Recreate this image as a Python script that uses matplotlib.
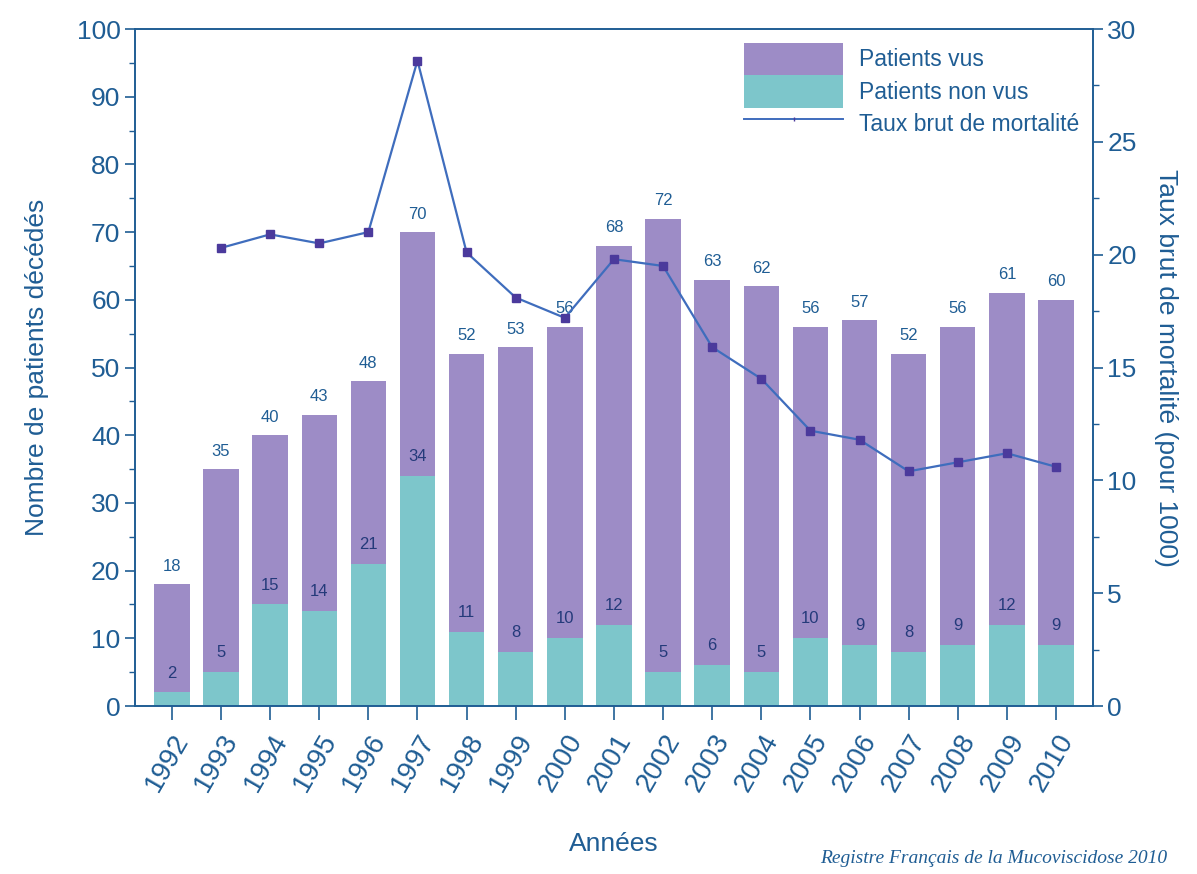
import matplotlib.pyplot as plt
from matplotlib.patches import Patch
from matplotlib.lines import Line2D
from matplotlib.ticker import MultipleLocator

plt.rcParams['font.family'] = ['Liberation Sans', 'DejaVu Sans']

years = [str(y) for y in range(1992, 2011)]
total = [18, 35, 40, 43, 48, 70, 52, 53, 56, 68, 72, 63, 62, 56, 57, 52, 56, 61, 60]
non_vus = [2, 5, 15, 14, 21, 34, 11, 8, 10, 12, 5, 6, 5, 10, 9, 8, 9, 12, 9]
# mortality rate per 1000, no value for 1992
rate_years = years[1:]
rate = [20.3, 20.9, 20.5, 21.0, 28.6, 20.1, 18.1, 17.2, 19.8, 19.5,
        15.9, 14.5, 12.2, 11.8, 10.4, 10.8, 11.2, 10.6]

vus = [t - n for t, n in zip(total, non_vus)]

PURPLE = '#9d8cc6'
TEAL = '#7dc6cb'
TXT = '#1f5d94'
LINE = '#3f6dbd'
MARK = '#4b3a9c'

fig = plt.figure(figsize=(11.97, 8.74), dpi=100)
ax = fig.add_axes([0.1128, 0.1922, 0.8002, 0.7746])
ax2 = ax.twinx()

x = list(range(len(years)))
ax.bar(x, non_vus, width=0.72, color=TEAL, zorder=2)
ax.bar(x, vus, width=0.72, bottom=non_vus, color=PURPLE, zorder=2)

for i in x:
    ax.annotate(str(total[i]), (i, total[i]), xytext=(0, 13), textcoords='offset points',
                ha='center', va='center', fontsize=12, color=TXT)
    ax.annotate(str(non_vus[i]), (i, non_vus[i]), xytext=(0, 14), textcoords='offset points',
                ha='center', va='center', fontsize=12, color='#243a7a')

ax2.plot(x[1:], rate, color=LINE, lw=1.6, marker='s', ms=6,
         mfc=MARK, mec=MARK, zorder=3)

ax.set_xlim(-0.75, 18.75)
ax.set_ylim(0, 100)
ax2.set_ylim(0, 30)

ax.yaxis.set_major_locator(MultipleLocator(10))
ax.yaxis.set_minor_locator(MultipleLocator(5))
ax2.yaxis.set_major_locator(MultipleLocator(5))
ax2.yaxis.set_minor_locator(MultipleLocator(2.5))

ax.set_xticks(x)
ax.set_xticklabels(years, rotation=60, ha='right', va='top', rotation_mode='anchor')

for a in (ax, ax2):
    for s in a.spines.values():
        s.set_color(TXT)
        s.set_linewidth(1.2)
    a.tick_params(which='major', direction='out', length=7, width=1.2, color=TXT,
                  labelcolor=TXT, labelsize=19)
    a.tick_params(which='minor', direction='out', length=4, width=1.0, color=TXT)
ax.tick_params(axis='x', length=10, pad=7, labelsize=20)

ax.set_ylabel('Nombre de patients décédés', fontsize=19, color=TXT, labelpad=20)
ax2.set_ylabel('Taux brut de mortalité (pour 1000)', fontsize=19, color=TXT,
               rotation=270, labelpad=30)
ax.set_xlabel('Années', fontsize=19, color=TXT, labelpad=26)

handles = [Patch(facecolor=PURPLE, edgecolor='none'),
           Patch(facecolor=TEAL, edgecolor='none'),
           Line2D([0], [0], color=LINE, lw=1.4, marker='|', ms=3, markevery=[1],
                  mec=MARK)]
leg = ax.legend(handles, ['Patients vus', 'Patients non vus', 'Taux brut de mortalité'],
                loc='upper right', bbox_to_anchor=(1.0, 1.0), frameon=False,
                fontsize=16.5, handlelength=4.3, handleheight=1.8, labelspacing=0.0,
                handletextpad=0.7, borderaxespad=0.2)
for t in leg.get_texts():
    t.set_color(TXT)

fig.text(0.975, 0.008, 'Registre Français de la Mucoviscidose 2010', ha='right',
         va='bottom', fontsize=14, color=TXT, style='italic', family='Liberation Serif')

fig.savefig('out.png', dpi=100)
